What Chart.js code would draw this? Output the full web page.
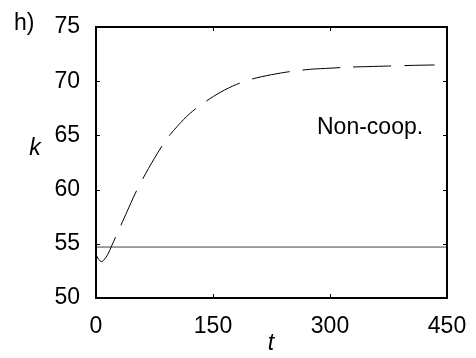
<!DOCTYPE html>
<html>
<head>
<meta charset="utf-8">
<script src="https://cdn.jsdelivr.net/npm/chart.js@4/dist/chart.umd.min.js"></script>
<style>
  html, body { margin: 0; padding: 0; background: #fff; }
  #wrap { width: 476px; height: 358px; }
</style>
</head>
<body>
<div id="wrap"><canvas id="chart" width="476" height="358"></canvas></div>
<script>
const tValues = [0, 3, 7, 10, 15, 20, 25, 30, 40, 50, 60, 75, 90, 105, 120, 140, 160, 180, 200, 225, 250, 275, 300, 325, 350, 375, 400, 434];
const kValues = [54.0, 53.6, 53.35, 53.5, 54.0, 54.8, 55.6, 56.4, 58.0, 59.6, 61.0, 62.9, 64.6, 65.9, 67.0, 68.1, 69.0, 69.7, 70.2, 70.6, 70.9, 71.1, 71.2, 71.3, 71.35, 71.4, 71.45, 71.5];
const coopLevel = 54.7;
const xTicks = [0, 150, 300, 450];
const yTicks = [50, 55, 60, 65, 70, 75];

const FONT = "'Liberation Sans', Arial, sans-serif";

const curve = tValues.map((t, i) => ({ x: t, y: kValues[i] }));
const flat = [{ x: 0, y: coopLevel }, { x: 450, y: coopLevel }];

// box with inward ticks, plus the free text
const frame = {
  id: "frame",
  afterDraw(chart) {
    const ctx = chart.ctx;
    const a = chart.chartArea;
    const xs = chart.scales.x;
    const ys = chart.scales.y;
    const len = 4;

    ctx.save();
    ctx.strokeStyle = "#000";
    ctx.lineWidth = 2;
    ctx.strokeRect(Math.round(a.left), Math.round(a.top), Math.round(a.right - a.left), Math.round(a.bottom - a.top));

    ctx.lineWidth = 1;
    ctx.beginPath();
    xTicks.forEach((v) => {
      const px = Math.round(xs.getPixelForValue(v)) + 0.5;
      ctx.moveTo(px, a.bottom);
      ctx.lineTo(px, a.bottom - len);
      ctx.moveTo(px, a.top);
      ctx.lineTo(px, a.top + len);
    });
    yTicks.forEach((v) => {
      const py = Math.round(ys.getPixelForValue(v)) + 0.5;
      ctx.moveTo(a.left, py);
      ctx.lineTo(a.left + len, py);
      ctx.moveTo(a.right, py);
      ctx.lineTo(a.right - len, py);
    });
    ctx.stroke();

    ctx.fillStyle = "#000";
    ctx.textBaseline = "alphabetic";
    ctx.textAlign = "left";
    ctx.font = "23px " + FONT;
    ctx.fillText("h)", 14, 30);
    ctx.fillText("Non-coop.", 317, 134);

    ctx.font = "italic 23px " + FONT;
    ctx.textAlign = "center";
    ctx.fillText("k", 35, 155);
    ctx.fillText("t", 271, 350);
    ctx.restore();
  }
};

new Chart(document.getElementById("chart"), {
  type: "scatter",
  data: {
    datasets: [
      {
        data: curve,
        showLine: true,
        borderColor: "#000",
        borderWidth: 1,
        borderDash: [38, 13],
        pointRadius: 0,
        tension: 0.3
      },
      {
        data: flat,
        showLine: true,
        borderColor: "#444",
        borderWidth: 1,
        pointRadius: 0
      }
    ]
  },
  options: {
    responsive: false,
    animation: false,
    layout: { padding: { left: 0, top: 27, right: 29, bottom: 0 } },
    plugins: { legend: { display: false }, tooltip: { enabled: false } },
    scales: {
      x: {
        type: "linear",
        min: 0,
        max: 450,
        afterFit: (s) => { s.height = 60; },
        afterBuildTicks: (s) => { s.ticks = xTicks.map((v) => ({ value: v })); },
        grid: { display: false },
        border: { display: false },
        ticks: { color: "#000", padding: 7, maxRotation: 0, font: { family: FONT, size: 23 } }
      },
      y: {
        type: "linear",
        min: 50,
        max: 75,
        afterFit: (s) => { s.width = 96; },
        afterBuildTicks: (s) => { s.ticks = yTicks.map((v) => ({ value: v })); },
        grid: { display: false },
        border: { display: false },
        ticks: { color: "#000", padding: 8, font: { family: FONT, size: 23 } }
      }
    }
  },
  plugins: [frame]
});
</script>
</body>
</html>
